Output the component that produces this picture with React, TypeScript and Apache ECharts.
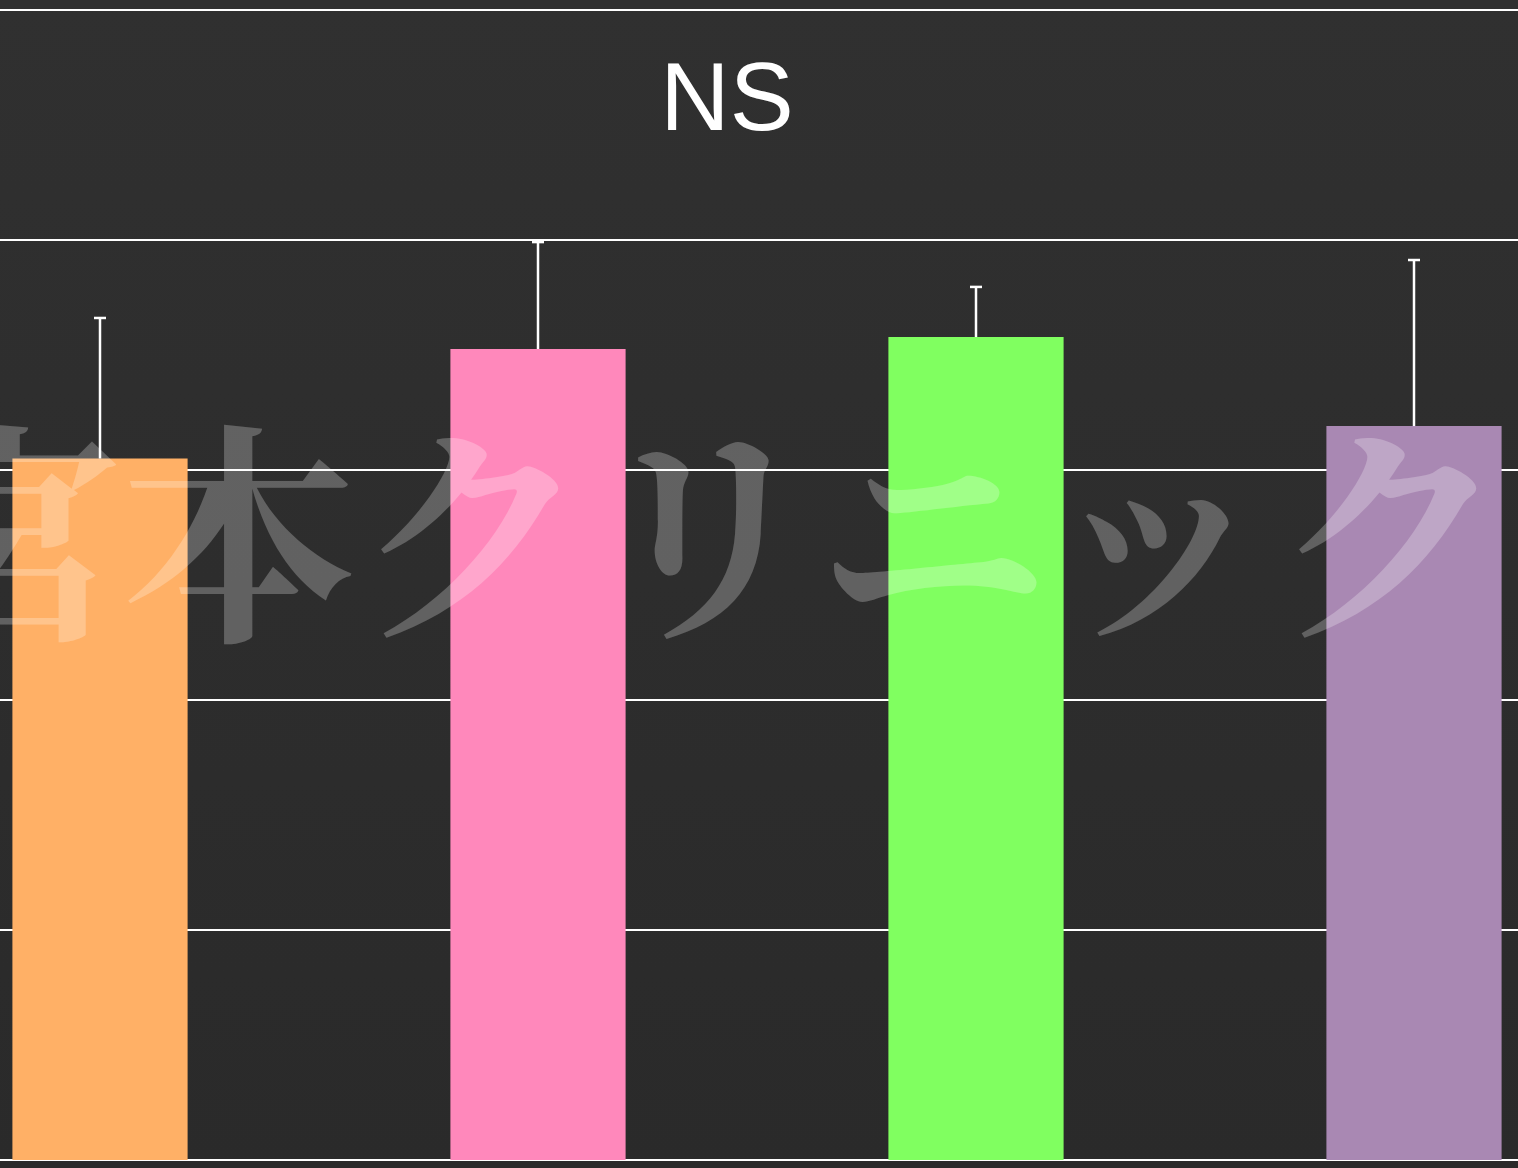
import React, { useEffect, useRef } from "react";
import * as echarts from "echarts";

const categories = ["1", "2", "3", "4"];
const means = [3.05, 3.526, 3.578, 3.191];
const upper = [3.661, 3.991, 3.796, 3.913];
const barColors = ["#FFB066", "#FF88BB", "#80FF60", "#A988B3"];
const yTicks = [0, 1, 2, 3, 4, 5];
const titleText = "NS";
const watermark = "宮本クリニック";

const OFFSET = 119;
const CHART_W = 1752;

export default function App() {
  const ref = useRef<HTMLDivElement>(null);
  useEffect(() => {
    if (!ref.current) return;
    const chart = echarts.init(ref.current, null, { renderer: "svg" });
    const errData = categories.map((c, i) => [i, means[i], upper[i]]);
    chart.setOption({
      animation: false,
      backgroundColor: {
        type: "linear",
        x: 0,
        y: 0,
        x2: 0,
        y2: 1,
        colorStops: [
          { offset: 0, color: "#303030" },
          { offset: 1, color: "#2a2a2a" },
        ],
      },
      grid: { left: 0, right: 0, top: 10, bottom: 8, containLabel: false },
      xAxis: {
        type: "category",
        data: categories,
        axisLine: { show: false },
        axisTick: { show: false },
        axisLabel: { show: false },
        splitLine: { show: false },
      },
      yAxis: {
        type: "value",
        min: yTicks[0],
        max: yTicks[yTicks.length - 1],
        interval: 1,
        axisLine: { show: false },
        axisTick: { show: false },
        axisLabel: { show: false },
        splitLine: { show: true, lineStyle: { color: "#ffffff", width: 2 } },
      },
      series: [
        {
          type: "bar",
          data: means.map((v, i) => ({ value: v, itemStyle: { color: barColors[i] } })),
          barWidth: "40%",
          z: 2,
        },
        {
          type: "custom",
          z: 3,
          data: errData,
          renderItem: (params: any, api: any) => {
            const x = api.value(0);
            const lo = api.coord([x, api.value(1)]);
            const hi = api.coord([x, api.value(2)]);
            const cap = 6;
            const style = { stroke: "#ffffff", lineWidth: 2.5 };
            return {
              type: "group",
              children: [
                { type: "line", shape: { x1: lo[0], y1: lo[1], x2: hi[0], y2: hi[1] }, style },
                { type: "line", shape: { x1: hi[0] - cap, y1: hi[1], x2: hi[0] + cap, y2: hi[1] }, style },
              ],
            };
          },
        },
      ],
      graphic: [
        {
          type: "text",
          x: 727 + OFFSET,
          y: 96,
          z: 10,
          style: {
            text: titleText,
            fill: "#ffffff",
            font: "96px 'Liberation Sans', Arial, sans-serif",
            textAlign: "center",
            textVerticalAlign: "middle",
          },
        },
        {
          type: "text",
          x: 698 + OFFSET,
          y: 522,
          z: 100,
          style: {
            text: watermark,
            fill: "rgba(255,255,255,0.25)",
            font: "bold 233px 'Noto Serif CJK JP', 'Noto Sans CJK JP', serif",
            textAlign: "center",
            textVerticalAlign: "middle",
          },
        },
      ],
    });
    return () => chart.dispose();
  }, []);
  return (
    <div style={{ position: "fixed", left: 0, top: 0, width: 1518, height: 1168, overflow: "hidden" }}>
      <div
        ref={ref}
        style={{ position: "absolute", left: -OFFSET, top: 0, width: CHART_W, height: 1168 }}
      />
    </div>
  );
}
